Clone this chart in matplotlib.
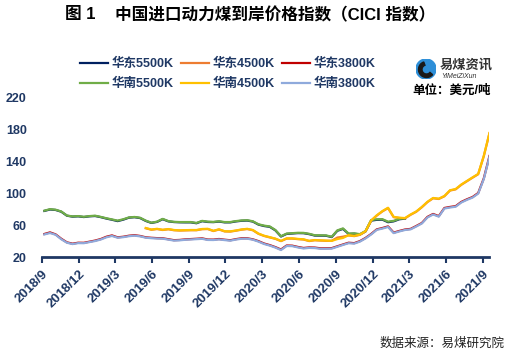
import numpy as np
import pandas as pd
import matplotlib
matplotlib.use('Agg')
import matplotlib.pyplot as plt
import matplotlib.patches as mpatches

plt.rcParams['font.family'] = ['Liberation Sans', 'Noto Sans CJK SC', 'DejaVu Sans']

nan = np.nan

dates = pd.date_range('2018-09-07', periods=80, freq='14D')

east_5500 = [78.0, 79.8, 79.2, 77.0, 72.0, 70.8, 71.2, 70.3, 71.2, 71.6,
             70.2, 68.4, 66.9, 65.2, 67.0, 69.5, 70.1, 69.0, 65.4, 62.9,
             64.2, 67.6, 64.9, 64.0, 63.7, 63.6, 63.6, 62.5, 65.1, 64.1,
             63.9, 64.6, 63.6, 63.6, 64.8, 65.6, 65.9, 64.6, 60.8, 59.0,
             58.0, 53.6, 45.8, 49.1, 49.6, 50.1, 50.0, 48.8, 47.0, 46.9,
             46.8, 45.1, 53.0, 55.4, 49.1, 49.4, 48.4, 52.2, 65.8, 66.8,
             67.0, 63.8, 64.9, 67.5, 68.3] + [nan] * 15
east_4500 = [nan] * 18 + [
             56.2, 54.3, 55.2, 54.0, 54.9, 53.7, 53.3, 53.5, 53.7, 53.7,
             55.0, 55.2, 52.7, 54.6, 52.2, 52.0, 53.1, 54.4, 55.2, 53.7,
             49.2, 46.5, 44.7, 42.9, 40.0, 43.2, 43.2, 42.5, 42.0, 40.1,
             41.1, 40.7, 40.4, 40.5, 44.5, 45.6, 47.2, 46.3, 47.9, 52.2,
             65.6, 72.1, 77.4, 81.5, 70.1, 69.1, 68.6, 73.1, 76.9, 82.6,
             89.1, 93.9, 93.0, 96.4, 103.6, 105.1, 110.8, 115.3, 119.8, 124.1,
             147.0, 175.5]
east_3800 = [49.0, 51.0, 48.5, 43.0, 38.5, 36.8, 38.0, 37.9, 39.3, 40.7,
             42.6, 45.5, 47.2, 44.8, 45.5, 46.8, 47.5, 46.5, 44.8, 44.2,
             43.8, 43.6, 42.4, 41.2, 41.5, 42.2, 42.6, 43.0, 43.5, 42.0,
             41.9, 42.7, 41.8, 41.1, 42.5, 43.6, 43.6, 42.3, 40.0, 37.0,
             35.0, 32.5, 29.5, 34.5, 34.3, 32.7, 31.4, 32.1, 31.9, 31.0,
             31.0, 31.2, 33.5, 35.8, 38.0, 37.5, 40.0, 44.0, 49.0, 54.8,
             56.5, 58.5, 50.7, 52.8, 54.6, 55.4, 59.0, 62.8, 70.5, 74.2,
             71.4, 81.7, 83.0, 84.0, 89.3, 92.6, 95.5, 100.5, 119.0, 147.0]
south_5500 = [78.3, 80.2, 79.5, 77.3, 72.2, 71.1, 71.5, 70.6, 71.5, 72.0,
              70.5, 68.8, 67.3, 65.8, 67.5, 69.8, 70.4, 69.4, 65.8, 63.2,
              64.5, 68.0, 65.2, 64.3, 64.0, 64.0, 64.0, 62.9, 65.5, 64.5,
              64.2, 65.0, 64.0, 64.0, 65.2, 66.0, 66.3, 65.0, 61.2, 59.5,
              58.5, 54.0, 46.2, 49.5, 50.0, 50.5, 50.4, 49.2, 47.4, 47.3,
              47.2, 45.5, 53.5, 56.0, 49.5, 49.8, 48.8, 52.7, 66.5, 67.5,
              67.6, 64.5, 65.5, 68.0, 68.8] + [nan] * 15
south_4500 = [nan] * 18 + [
              56.5, 54.6, 55.5, 54.3, 55.2, 54.0, 53.6, 53.8, 54.0, 54.0,
              55.3, 55.5, 53.0, 54.9, 52.5, 52.3, 53.4, 54.7, 55.5, 54.0,
              49.5, 46.8, 45.0, 43.2, 40.3, 43.5, 43.5, 42.8, 42.3, 40.4,
              41.4, 41.0, 40.7, 40.3, 42.6, 44.0, 47.5, 46.6, 48.2, 52.5,
              66.0, 72.5, 77.8, 82.0, 70.5, 69.5, 69.0, 73.5, 77.3, 83.0,
              89.5, 94.3, 93.4, 96.8, 104.0, 105.5, 111.2, 115.7, 120.2, 124.5,
              147.3, 176.0]
south_3800 = [48.4, 50.2, 48.0, 42.4, 38.0, 36.3, 37.5, 37.4, 38.8, 40.1,
              42.0, 44.8, 46.5, 44.3, 45.0, 46.2, 46.9, 46.0, 44.3, 43.7,
              43.3, 43.1, 41.9, 40.7, 41.0, 41.7, 42.1, 42.5, 42.9, 41.5,
              41.4, 42.1, 41.3, 40.6, 42.0, 43.0, 43.1, 41.8, 39.4, 36.4,
              34.4, 31.9, 28.8, 33.9, 33.7, 32.1, 30.8, 31.5, 31.3, 30.4,
              30.4, 30.6, 32.9, 35.2, 37.4, 36.9, 39.4, 43.4, 48.4, 54.2,
              55.8, 57.8, 50.1, 52.2, 54.0, 54.8, 58.4, 62.2, 69.8, 73.5,
              70.8, 81.0, 82.3, 83.3, 88.6, 91.9, 94.8, 99.8, 118.2, 146.0]

tick_dates = ['2018-09-01', '2018-12-01', '2019-03-01', '2019-06-01', '2019-09-01',
              '2019-12-01', '2020-03-01', '2020-06-01', '2020-09-01', '2020-12-01',
              '2021-03-01', '2021-06-01', '2021-09-01']
tick_labels = ['2018/9', '2018/12', '2019/3', '2019/6', '2019/9', '2019/12', '2020/3',
               '2020/6', '2020/9', '2020/12', '2021/3', '2021/6', '2021/9']

navy = '#1F3864'

fig = plt.figure(figsize=(5.31, 3.57), dpi=100)
ax = fig.add_axes([0.079, 0.28, 0.842, 0.4455])

series = [
    ('华东5500K', east_5500, '#002060'),
    ('华东4500K', east_4500, '#ED7D31'),
    ('华东3800K', east_3800, '#C00000'),
    ('华南5500K', south_5500, '#70AD47'),
    ('华南4500K', south_4500, '#FFC000'),
    ('华南3800K', south_3800, '#8FAADC'),
]
lines = {}
for name, vals, col in series:
    lines[name], = ax.plot(dates, vals, color=col, lw=1.6, label=name)

ax.set_xlim(pd.Timestamp('2018-09-01'), pd.Timestamp('2021-09-16'))
ax.set_ylim(20, 220)
ax.set_yticks(range(20, 221, 40))
ax.set_xticks(pd.to_datetime(tick_dates))
ax.set_xticklabels(tick_labels, rotation=45, ha='right', rotation_mode='anchor')

for s in ['top', 'right', 'left']:
    ax.spines[s].set_visible(False)
ax.spines['bottom'].set_color(navy)
ax.spines['bottom'].set_linewidth(2)
ax.tick_params(axis='y', length=0, pad=11, labelsize=9, labelcolor=navy)
ax.tick_params(axis='x', length=4, width=1.5, color=navy, labelsize=9.5,
               labelcolor=navy, pad=4)
for lbl in ax.get_xticklabels() + ax.get_yticklabels():
    lbl.set_fontweight('bold')

order = ['华东5500K', '华南5500K', '华东4500K', '华南4500K', '华东3800K', '华南3800K']
fig.legend([lines[k] for k in order], order, ncol=3, loc='center',
           bbox_to_anchor=(0.429, 0.793), frameon=False,
           prop={'weight': 'bold', 'size': 9}, labelcolor=navy,
           handlelength=2.2, handletextpad=0.3, columnspacing=0.6,
           labelspacing=0.62, borderpad=0)

# title and notes
fig.text(65 / 531, 1 - 15 / 357, '图 1', fontsize=12, weight='bold', va='center')
fig.text(115 / 531, 1 - 15 / 357, '中国进口动力煤到岸价格指数（CICI 指数）',
         fontsize=12, weight='bold', va='center')
fig.text(505 / 531, 1 - 344 / 357, '数据来源：易煤研究院', ha='right', va='center',
         fontsize=9, color='#222222')

# logo
lax = fig.add_axes([416 / 531, 1 - 79 / 357, 20 / 531, 20 / 357])
lax.set_xlim(-1, 1)
lax.set_ylim(-1, 1)
lax.axis('off')
lax.add_patch(mpatches.Circle((0, 0), 1, color='#2E8FD8'))
lax.add_patch(mpatches.Wedge((0.05, -0.05), 0.8, 110, 320, width=0.35, color='#1A1A1A'))
fig.text(440 / 531, 1 - 65 / 357, '易煤资讯', fontsize=9.5, weight='bold',
         color='#333333', va='center')
fig.text(441 / 531, 1 - 77 / 357, 'YiMeiZiXun', fontsize=5, color='#333333',
         va='center', style='italic')
fig.text(452 / 531, 1 - 91 / 357, '单位：美元/吨', fontsize=9, weight='bold',
         ha='center', va='center', color='black')

fig.savefig('out.png', dpi=100)
